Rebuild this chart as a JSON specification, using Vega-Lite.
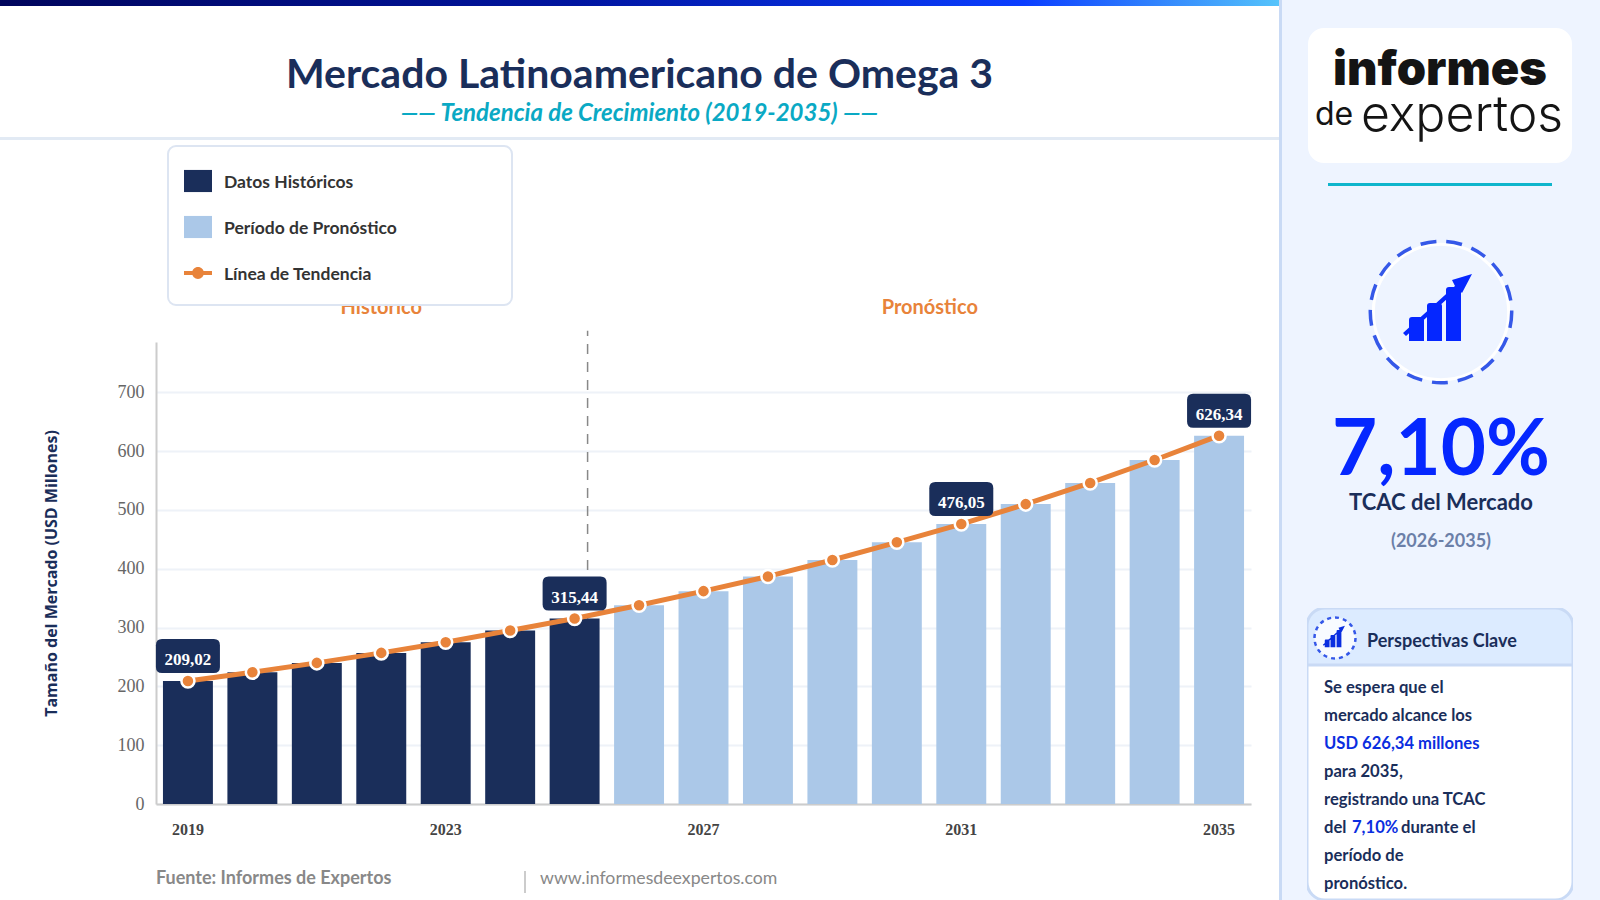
{
"$schema":"https://vega.github.io/schema/vega-lite/v6.json",
"padding":0,
"background":"white",
"autosize":{"type":"pad"},
"config":{"view":{"stroke":null},"font":"Lato"},
"spacing":0,
"hconcat":[
{"spacing":0,"vconcat":[
 {"width":1279,"height":6,"data":{"values":[{"parte":"barra"}]},"mark":{"type":"rect","color":{"gradient":"linear","x1":0,"x2":1,"y1":0,"y2":0,"stops":[{"offset":0,"color":"#00055c"},{"offset":0.45,"color":"#0015a0"},{"offset":0.8,"color":"#0a3dff"},{"offset":1,"color":"#55c4fb"}]}}},
 {"width":1279,"height":131,"layer":[
  {"data":{"values":[{"parte":"titulo","texto":"Mercado Latinoamericano de Omega 3"}]},"mark":{"type":"text","font":"Lato","fontWeight":"bold","fontSize":41,"color":"#1a2e5a","baseline":"middle"},"encoding":{"y":{"field":"parte","type":"nominal","axis":null,"scale":{"type":"point","domain":["titulo","subtitulo"],"range":[70,108],"padding":0}},"text":{"field":"texto"}}},
  {"data":{"values":[{"parte":"subtitulo","texto":"—— Tendencia de Crecimiento (2019-2035) ——"}]},"mark":{"type":"text","font":"Lato","fontWeight":"bold","fontStyle":"italic","fontSize":24,"color":"#0aa9c4","baseline":"middle"},"encoding":{"y":{"field":"parte","type":"nominal","axis":null,"scale":{"type":"point","domain":["titulo","subtitulo"],"range":[70,108],"padding":0}},"text":{"field":"texto"}}}
 ]},
 {"width":1279,"height":3,"data":{"values":[{"parte":"divisor"}]},"mark":{"type":"rect","color":"#e2eaf4"}},
 {"width":1279,"height":158,"data":{"values":[]},"mark":"rect"},
 {"spacing":0,"bounds":"flush","hconcat":[
  {"width":156,"height":462,"data":{"values":[]},"mark":"rect"},
  {"width":1095,"height":462,
   "data":{"values":[
    {"anio":2019,"valor":209.02,"rotulo":"209,02","periodo":"Datos Históricos"},
    {"anio":2020,"valor":224,"periodo":"Datos Históricos"},
    {"anio":2021,"valor":240,"periodo":"Datos Históricos"},
    {"anio":2022,"valor":257,"periodo":"Datos Históricos"},
    {"anio":2023,"valor":275,"periodo":"Datos Históricos"},
    {"anio":2024,"valor":295,"periodo":"Datos Históricos"},
    {"anio":2025,"valor":315.44,"rotulo":"315,44","periodo":"Datos Históricos"},
    {"anio":2026,"valor":338,"periodo":"Período de Pronóstico"},
    {"anio":2027,"valor":362,"periodo":"Período de Pronóstico"},
    {"anio":2028,"valor":387,"periodo":"Período de Pronóstico"},
    {"anio":2029,"valor":415,"periodo":"Período de Pronóstico"},
    {"anio":2030,"valor":445,"periodo":"Período de Pronóstico"},
    {"anio":2031,"valor":476.05,"rotulo":"476,05","periodo":"Período de Pronóstico"},
    {"anio":2032,"valor":510,"periodo":"Período de Pronóstico"},
    {"anio":2033,"valor":546,"periodo":"Período de Pronóstico"},
    {"anio":2034,"valor":585,"periodo":"Período de Pronóstico"},
    {"anio":2035,"valor":626.34,"rotulo":"626,34","periodo":"Período de Pronóstico"}
   ]},
   "encoding":{
    "x":{"field":"anio","type":"ordinal","scale":{"paddingInner":0.225,"paddingOuter":0.108},"axis":{"title":null,"values":[2019,2023,2027,2031,2035],"labelAngle":0,"ticks":false,"domainColor":"#cccccc","domainWidth":2,"labelFont":"Liberation Serif","labelFontWeight":"bold","labelFontSize":16,"labelColor":"#444444","labelPadding":17}},
    "y":{"field":"valor","type":"quantitative","scale":{"domain":[0,785.7],"nice":false},"axis":{"title":"Tamaño del Mercado (USD Millones)","titleFont":"Open Sans","titleFontWeight":"bold","titleFontSize":16,"titleColor":"#1a2e5a","titlePadding":58,"values":[0,100,200,300,400,500,600,700],"ticks":false,"domainColor":"#cccccc","domainWidth":2,"gridColor":"#eef2f8","gridWidth":2,"grid":true,"labelFont":"Liberation Serif","labelFontSize":18,"labelColor":"#666666","labelPadding":12}}
   },
   "layer":[
    {"data":{"values":[{"anio":2025,"desde":0,"hasta":805}]},"mark":{"type":"rule","color":"#888888","strokeWidth":1.5,"strokeDash":[10,8],"clip":false},"encoding":{"x":{"field":"anio","type":"ordinal","bandPosition":0.76},"y":{"field":"desde","type":"quantitative"},"y2":{"field":"hasta"}}},
    {"mark":{"type":"bar"},"encoding":{"color":{"field":"periodo","type":"nominal","scale":{"domain":["Datos Históricos","Período de Pronóstico","Línea de Tendencia"],"range":["#1a2e5a","#abc8e8","#e8833a"]},"legend":{"orient":"none","legendX":168,"legendY":146,"title":" ","titleOrient":"right","titlePadding":94,"labelFont":"Lato","labelFontWeight":"bold","labelFontSize":17.5,"labelColor":"#333333","labelOffset":12,"labelLimit":300,"padding":21,"rowPadding":20,"symbolOffset":-5,"symbolSize":784,"symbolStrokeWidth":0,"fillColor":"white","strokeColor":"#dde5f2","cornerRadius":8,"encode":{"legend":{"update":{"strokeWidth":{"value":2}}},"labels":{"update":{"dy":{"value":2}}},"symbols":{"update":{"shape":{"signal":"datum.value === 'Línea de Tendencia' ? 'M-1,-0.14H1V0.14H-1Z M0.42,0A0.42,0.42 0 1,1 -0.42,0A0.42,0.42 0 1,1 0.42,0Z' : 'M-1,-0.79H1V0.79H-1Z'"},"strokeWidth":{"value":0}}}}}}}},
    {"mark":{"type":"line","color":"#e8833a","strokeWidth":5}},
    {"mark":{"type":"point","filled":true,"fill":"#e8833a","stroke":"white","strokeWidth":2.5,"size":170,"opacity":1}},
    {"transform":[{"filter":"isValid(datum.rotulo)"}],"mark":{"type":"point","filled":true,"fill":"#1a2e5a","opacity":1,"strokeWidth":0,"size":4096,"shape":"M-0.81,-1.3125H0.81Q1,-1.3125 1,-1.12V-0.44Q1,-0.25 0.81,-0.25H-0.81Q-1,-0.25 -1,-0.44V-1.12Q-1,-1.3125 -0.81,-1.3125Z"}},
    {"transform":[{"filter":"isValid(datum.rotulo)"}],"mark":{"type":"text","font":"Liberation Serif","fontWeight":"bold","fontSize":17,"color":"white","baseline":"middle","dy":-21},"encoding":{"text":{"field":"rotulo"}}},
    {"data":{"values":[{"anio":2022,"etiqueta":"Histórico","nivel":843}]},"mark":{"type":"text","font":"Lato","fontWeight":"bold","fontSize":20,"color":"#e8833a","baseline":"middle"},"encoding":{"x":{"field":"anio","type":"ordinal"},"y":{"field":"nivel","type":"quantitative"},"text":{"field":"etiqueta"}}},
    {"data":{"values":[{"anio":2030,"etiqueta":"Pronóstico","nivel":843}]},"mark":{"type":"text","font":"Lato","fontWeight":"bold","fontSize":20,"color":"#e8833a","baseline":"middle"},"encoding":{"x":{"field":"anio","type":"ordinal","bandPosition":1.16},"y":{"field":"nivel","type":"quantitative"},"text":{"field":"etiqueta"}}}
   ]
  },
  {"width":28,"height":462,"data":{"values":[]},"mark":"rect"}
 ]},
 {"width":1279,"height":19,"data":{"values":[]},"mark":"rect"},
 {"spacing":0,"bounds":"flush","hconcat":[
  {"width":156,"height":45,"data":{"values":[]},"mark":"rect"},
  {"width":368,"height":45,"data":{"values":[{"texto":"Fuente: Informes de Expertos","ancla":0}]},"mark":{"type":"text","font":"Lato","fontWeight":"bold","fontSize":18,"color":"#888888","align":"left","baseline":"middle"},"encoding":{"x":{"field":"ancla","type":"quantitative","scale":{"domain":[0,1]},"axis":null},"text":{"field":"texto"}}},
  {"width":2,"height":45,"data":{"values":[{"desde":15,"hasta":37}]},"mark":{"type":"rect","color":"#cccccc"},"encoding":{"y":{"field":"desde","type":"quantitative","axis":null,"scale":{"domain":[0,45],"range":[0,45]}},"y2":{"field":"hasta"}}},
  {"width":14,"height":45,"data":{"values":[]},"mark":"rect"},
  {"width":739,"height":45,"data":{"values":[{"texto":"www.informesdeexpertos.com","ancla":0}]},"mark":{"type":"text","font":"Lato","fontSize":17.7,"color":"#888888","align":"left","baseline":"middle"},"encoding":{"x":{"field":"ancla","type":"quantitative","scale":{"domain":[0,1]},"axis":null},"text":{"field":"texto"}}}
 ]}
]},
{"spacing":0,"bounds":"flush","hconcat":[
 {"width":3,"height":900,"data":{"values":[{"parte":"borde"}]},"mark":{"type":"rect","color":"#c9daf5"}},
 {"spacing":0,"vconcat":[
  {"width":318,"height":28,"view":{"fill":"#eef4ff"},"data":{"values":[]},"mark":"rect"},
  {"spacing":0,"bounds":"flush","hconcat":[
   {"width":26,"height":135,"view":{"fill":"#eef4ff"},"data":{"values":[]},"mark":"rect"},
   {"width":264,"height":135,"view":{"fill":"#eef4ff"},"layer":[
    {"data":{"values":[{"parte":"fondo"}]},"mark":{"type":"rect","color":"white","cornerRadius":16}},
    {"data":{"values":[{"texto":"informes"}]},"mark":{"type":"text","font":"Inter","fontWeight":900,"fontSize":47,"color":"#141414","dy":-25,"baseline":"middle"},"encoding":{"text":{"field":"texto"}}},
    {"data":{"values":[{"texto":"de"}]},"mark":{"type":"text","font":"Inter","fontSize":32,"color":"#141414","dx":-106,"dy":19,"baseline":"middle"},"encoding":{"text":{"field":"texto"}}},
    {"data":{"values":[{"texto":"expertos"}]},"mark":{"type":"text","font":"Inter","fontWeight":300,"fontSize":50,"color":"#141414","dx":22,"dy":20,"baseline":"middle"},"encoding":{"text":{"field":"texto"}}}
   ]},
   {"width":28,"height":135,"view":{"fill":"#eef4ff"},"data":{"values":[]},"mark":"rect"}
  ]},
  {"width":318,"height":20,"view":{"fill":"#eef4ff"},"data":{"values":[]},"mark":"rect"},
  {"spacing":0,"bounds":"flush","hconcat":[
   {"width":46,"height":3,"view":{"fill":"#eef4ff"},"data":{"values":[]},"mark":"rect"},
   {"width":224,"height":3,"view":{"fill":"#eef4ff"},"data":{"values":[{"parte":"linea"}]},"mark":{"type":"rect","color":"#0fb5cc"}},
   {"width":48,"height":3,"view":{"fill":"#eef4ff"},"data":{"values":[]},"mark":"rect"}
  ]},
  {"width":318,"height":48,"view":{"fill":"#eef4ff"},"data":{"values":[]},"mark":"rect"},
  {"width":318,"height":156,"view":{"fill":"#eef4ff"},"data":{"values":[{"parte":"icono"}]},"layer":[
   {"mark":{"type":"point","shape":"circle","size":18300,"filled":false,"stroke":"white","strokeWidth":3,"opacity":1}},
   {"mark":{"type":"point","shape":"circle","size":20000,"filled":false,"stroke":"#3558e8","strokeWidth":3.5,"strokeDash":[16,10],"opacity":1}},
   {"mark":{"type":"point","size":4,"filled":true,"fill":"#0527ff","opacity":1,"strokeWidth":0,"shape":"M-32,29V8Q-32,5 -29,5H-20Q-17,5 -17,8V29Z M-14,29V-6Q-14,-9 -11,-9H-2Q1,-9 1,-6V29Z M5,29V-22Q5,-25 8,-25H17Q20,-25 20,-22V29Z M-38,21L14,-26L11,-32L31,-38L21,-19L17,-23L-35,24Z"}}
  ]},
  {"width":318,"height":14,"view":{"fill":"#eef4ff"},"data":{"values":[]},"mark":"rect"},
  {"width":318,"height":87,"view":{"fill":"#eef4ff"},"data":{"values":[{"texto":"7,10%"}]},"mark":{"type":"text","font":"Lato","fontWeight":"bold","fontSize":78,"color":"#0527ff","baseline":"middle","dy":4.5},"encoding":{"text":{"field":"texto"}}},
  {"width":318,"height":24,"view":{"fill":"#eef4ff"},"data":{"values":[{"texto":"TCAC del Mercado"}]},"mark":{"type":"text","font":"Lato","fontWeight":"bold","fontSize":22,"color":"#1a2e5a","baseline":"middle"},"encoding":{"text":{"field":"texto"}}},
  {"width":318,"height":9,"view":{"fill":"#eef4ff"},"data":{"values":[]},"mark":"rect"},
  {"width":318,"height":36,"view":{"fill":"#eef4ff"},"data":{"values":[{"texto":"(2026-2035)"}]},"mark":{"type":"text","font":"Lato","fontWeight":"bold","fontSize":18,"color":"#6b7fa8","baseline":"middle"},"encoding":{"text":{"field":"texto"}}},
  {"width":318,"height":48,"view":{"fill":"#eef4ff"},"data":{"values":[]},"mark":"rect"},
  {"spacing":0,"hconcat":[
   {"width":25,"height":292,"view":{"fill":"#eef4ff"},"data":{"values":[]},"mark":"rect"},
   {"spacing":0,"bounds":"flush","vconcat":[
    {"width":266,"height":57,"view":{"fill":"#eef4ff"},"layer":[
     {"data":{"values":[{"parte":"cabecera"}]},"mark":{"type":"rect","fill":"#dcebff","stroke":"#c9daf5","strokeWidth":3,"cornerRadiusTopLeft":18,"cornerRadiusTopRight":18,"clip":true}},
     {"data":{"values":[{"parte":"icono"}]},"mark":{"type":"point","shape":"circle","size":1680,"filled":true,"fill":"#f8fbff","stroke":"#3558e8","strokeWidth":2.5,"strokeDash":[4,4],"opacity":1},"encoding":{"x":{"field":"parte","type":"nominal","axis":null,"scale":{"type":"point","domain":["icono","titulo"],"range":[28,60],"padding":0}},"y":{"field":"parte","type":"nominal","axis":null,"scale":{"type":"point","domain":["icono","titulo"],"range":[30,34],"padding":0}}}},
     {"data":{"values":[{"parte":"icono"}]},"mark":{"type":"point","size":0.41,"filled":true,"fill":"#0a2ee0","opacity":1,"strokeWidth":0,"shape":"M-32,29V8Q-32,5 -29,5H-20Q-17,5 -17,8V29Z M-14,29V-6Q-14,-9 -11,-9H-2Q1,-9 1,-6V29Z M5,29V-22Q5,-25 8,-25H17Q20,-25 20,-22V29Z M-38,21L14,-26L11,-32L31,-38L21,-19L17,-23L-35,24Z"},"encoding":{"x":{"field":"parte","type":"nominal","axis":null,"scale":{"type":"point","domain":["icono","titulo"],"range":[28,60],"padding":0}},"y":{"field":"parte","type":"nominal","axis":null,"scale":{"type":"point","domain":["icono","titulo"],"range":[30,34],"padding":0}}}},
     {"data":{"values":[{"parte":"titulo","texto":"Perspectivas Clave"}]},"mark":{"type":"text","font":"Lato","fontWeight":"bold","fontSize":18,"color":"#1a2e5a","align":"left","baseline":"middle"},"encoding":{"x":{"field":"parte","type":"nominal","axis":null,"scale":{"type":"point","domain":["icono","titulo"],"range":[28,60],"padding":0}},"y":{"field":"parte","type":"nominal","axis":null,"scale":{"type":"point","domain":["icono","titulo"],"range":[30,34],"padding":0}},"text":{"field":"texto"}}}
    ]},
    {"width":266,"height":235,"view":{"fill":"#eef4ff"},
     "layer":[
      {"data":{"values":[{"parte":"cuerpo"}]},"mark":{"type":"rect","fill":"white","stroke":"#c9daf5","strokeWidth":3,"cornerRadiusBottomLeft":18,"cornerRadiusBottomRight":18,"clip":true}},
      {"data":{"values":[
        {"ancla":0,"linea":"l1","texto":"Se espera que el"},
        {"ancla":0,"linea":"l2","texto":"mercado alcance los"},
        {"ancla":0,"linea":"l4","texto":"para 2035,"},
        {"ancla":0,"linea":"l5","texto":"registrando una TCAC"},
        {"ancla":0,"linea":"l6","texto":"del"},
        {"ancla":0,"linea":"l7","texto":"período de"},
        {"ancla":0,"linea":"l8","texto":"pronóstico."}
       ]},"mark":{"type":"text","font":"Lato","fontWeight":"bold","fontSize":16.6,"color":"#1a2e5a","align":"left","baseline":"middle"},
       "encoding":{"x":{"field":"ancla","type":"quantitative","axis":null,"scale":{"domain":[0,1],"range":[17,250]}},"y":{"field":"linea","type":"nominal","axis":null,"scale":{"type":"point","domain":["l1","l2","l3","l4","l5","l6","l7","l8"],"range":[23,219],"padding":0}},"text":{"field":"texto"}}},
      {"data":{"values":[{"ancla":0,"linea":"l3","texto":"USD 626,34 millones"}]},"mark":{"type":"text","font":"Lato","fontWeight":"bold","fontSize":16.6,"color":"#0a2ee0","align":"left","baseline":"middle"},
       "encoding":{"x":{"field":"ancla","type":"quantitative","axis":null,"scale":{"domain":[0,1],"range":[17,250]}},"y":{"field":"linea","type":"nominal","axis":null,"scale":{"type":"point","domain":["l1","l2","l3","l4","l5","l6","l7","l8"],"range":[23,219],"padding":0}},"text":{"field":"texto"}}},
      {"data":{"values":[{"ancla":0,"linea":"l6","texto":"7,10%"}]},"mark":{"type":"text","font":"Lato","fontWeight":"bold","fontSize":16.6,"color":"#0a2ee0","align":"left","baseline":"middle","dx":28},
       "encoding":{"x":{"field":"ancla","type":"quantitative","axis":null,"scale":{"domain":[0,1],"range":[17,250]}},"y":{"field":"linea","type":"nominal","axis":null,"scale":{"type":"point","domain":["l1","l2","l3","l4","l5","l6","l7","l8"],"range":[23,219],"padding":0}},"text":{"field":"texto"}}},
      {"data":{"values":[{"ancla":0,"linea":"l6","texto":"durante el"}]},"mark":{"type":"text","font":"Lato","fontWeight":"bold","fontSize":16.6,"color":"#1a2e5a","align":"left","baseline":"middle","dx":77},
       "encoding":{"x":{"field":"ancla","type":"quantitative","axis":null,"scale":{"domain":[0,1],"range":[17,250]}},"y":{"field":"linea","type":"nominal","axis":null,"scale":{"type":"point","domain":["l1","l2","l3","l4","l5","l6","l7","l8"],"range":[23,219],"padding":0}},"text":{"field":"texto"}}}
     ]}
   ]},
   {"width":27,"height":292,"view":{"fill":"#eef4ff"},"data":{"values":[]},"mark":"rect"}
  ]}
 ]}
]}
]
}
